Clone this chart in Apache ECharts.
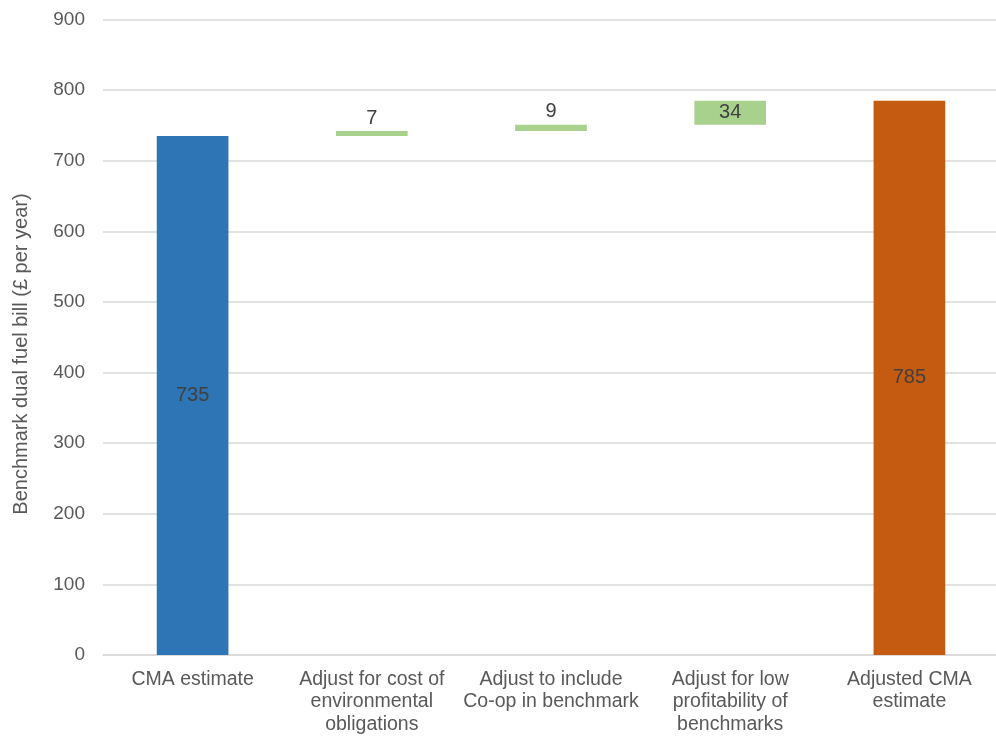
<!DOCTYPE html>
<html>
<head>
<meta charset="utf-8">
<script src="https://cdn.jsdelivr.net/npm/echarts@6/dist/echarts.min.js"></script>
<style>
  html, body { margin: 0; padding: 0; background: #fff; }
  #chart { width: 996px; height: 736px; }
</style>
</head>
<body>
<div id="chart"></div>
<script>
// Waterfall: starting estimate, three upward adjustments, adjusted total
const categories = [
  'CMA estimate',
  'Adjust for cost of\nenvironmental\nobligations',
  'Adjust to include\nCo-op in benchmark',
  'Adjust for low\nprofitability of\nbenchmarks',
  'Adjusted CMA\nestimate'
];
const values = [735, 7, 9, 34, 785];
const kinds = ['start', 'step', 'step', 'step', 'total'];
const yTicks = [0, 100, 200, 300, 400, 500, 600, 700, 800, 900];
const yTitle = 'Benchmark dual fuel bill (£ per year)';

const colors = { start: '#2E75B6', step: '#A9D18E', total: '#C55A11' };
const FONT = 'Liberation Sans, Arial, sans-serif';
const TEXT_GREY = '#595959';

// Invisible base under each step so it floats at the running total
const baseData = [];
const barData = [];
let running = 0;
values.forEach((v, i) => {
  const k = kinds[i];
  if (k === 'step') {
    baseData.push(running);
    running += v;
  } else {
    baseData.push(0);
    running = v;
  }
  const labelPos = (k === 'step' && v < 20) ? 'top' : 'inside';
  barData.push({
    value: v,
    itemStyle: { color: colors[k] },
    label: { position: labelPos, distance: 3 }
  });
});

const chart = echarts.init(document.getElementById('chart'), null, { renderer: 'canvas' });
chart.setOption({
  animation: false,
  grid: {
    left: 103, right: -3, top: 19.5, bottom: 81,
    containLabel: false, outerBoundsMode: 'none'
  },
  graphic: [{
    type: 'text',
    x: 21,
    y: 354,
    rotation: Math.PI / 2,
    style: {
      text: yTitle,
      fill: TEXT_GREY,
      font: '20px ' + FONT,
      textAlign: 'center',
      textVerticalAlign: 'middle'
    }
  }],
  xAxis: {
    type: 'category',
    data: categories,
    axisLine: { show: true, lineStyle: { color: '#D9D9D9', width: 1.5 } },
    axisTick: { show: false },
    axisLabel: {
      interval: 0,
      color: TEXT_GREY,
      fontFamily: FONT,
      fontSize: 19.5,
      lineHeight: 22.5,
      margin: 13
    }
  },
  yAxis: {
    type: 'value',
    min: yTicks[0],
    max: yTicks[yTicks.length - 1],
    interval: 100,
    axisLine: { show: false },
    axisTick: { show: false },
    axisLabel: {
      color: TEXT_GREY,
      fontFamily: FONT,
      fontSize: 19,
      margin: 18
    },
    splitLine: { lineStyle: { color: '#D9D9D9', width: 1.5 } }
  },
  series: [
    {
      type: 'bar',
      stack: 'wf',
      data: baseData,
      itemStyle: { color: 'transparent' },
      emphasis: { disabled: true },
      barWidth: '40%',
      silent: true
    },
    {
      type: 'bar',
      stack: 'wf',
      data: barData,
      barWidth: '40%',
      label: {
        show: true,
        color: '#404040',
        fontFamily: FONT,
        fontSize: 20
      }
    }
  ]
});
</script>
</body>
</html>
